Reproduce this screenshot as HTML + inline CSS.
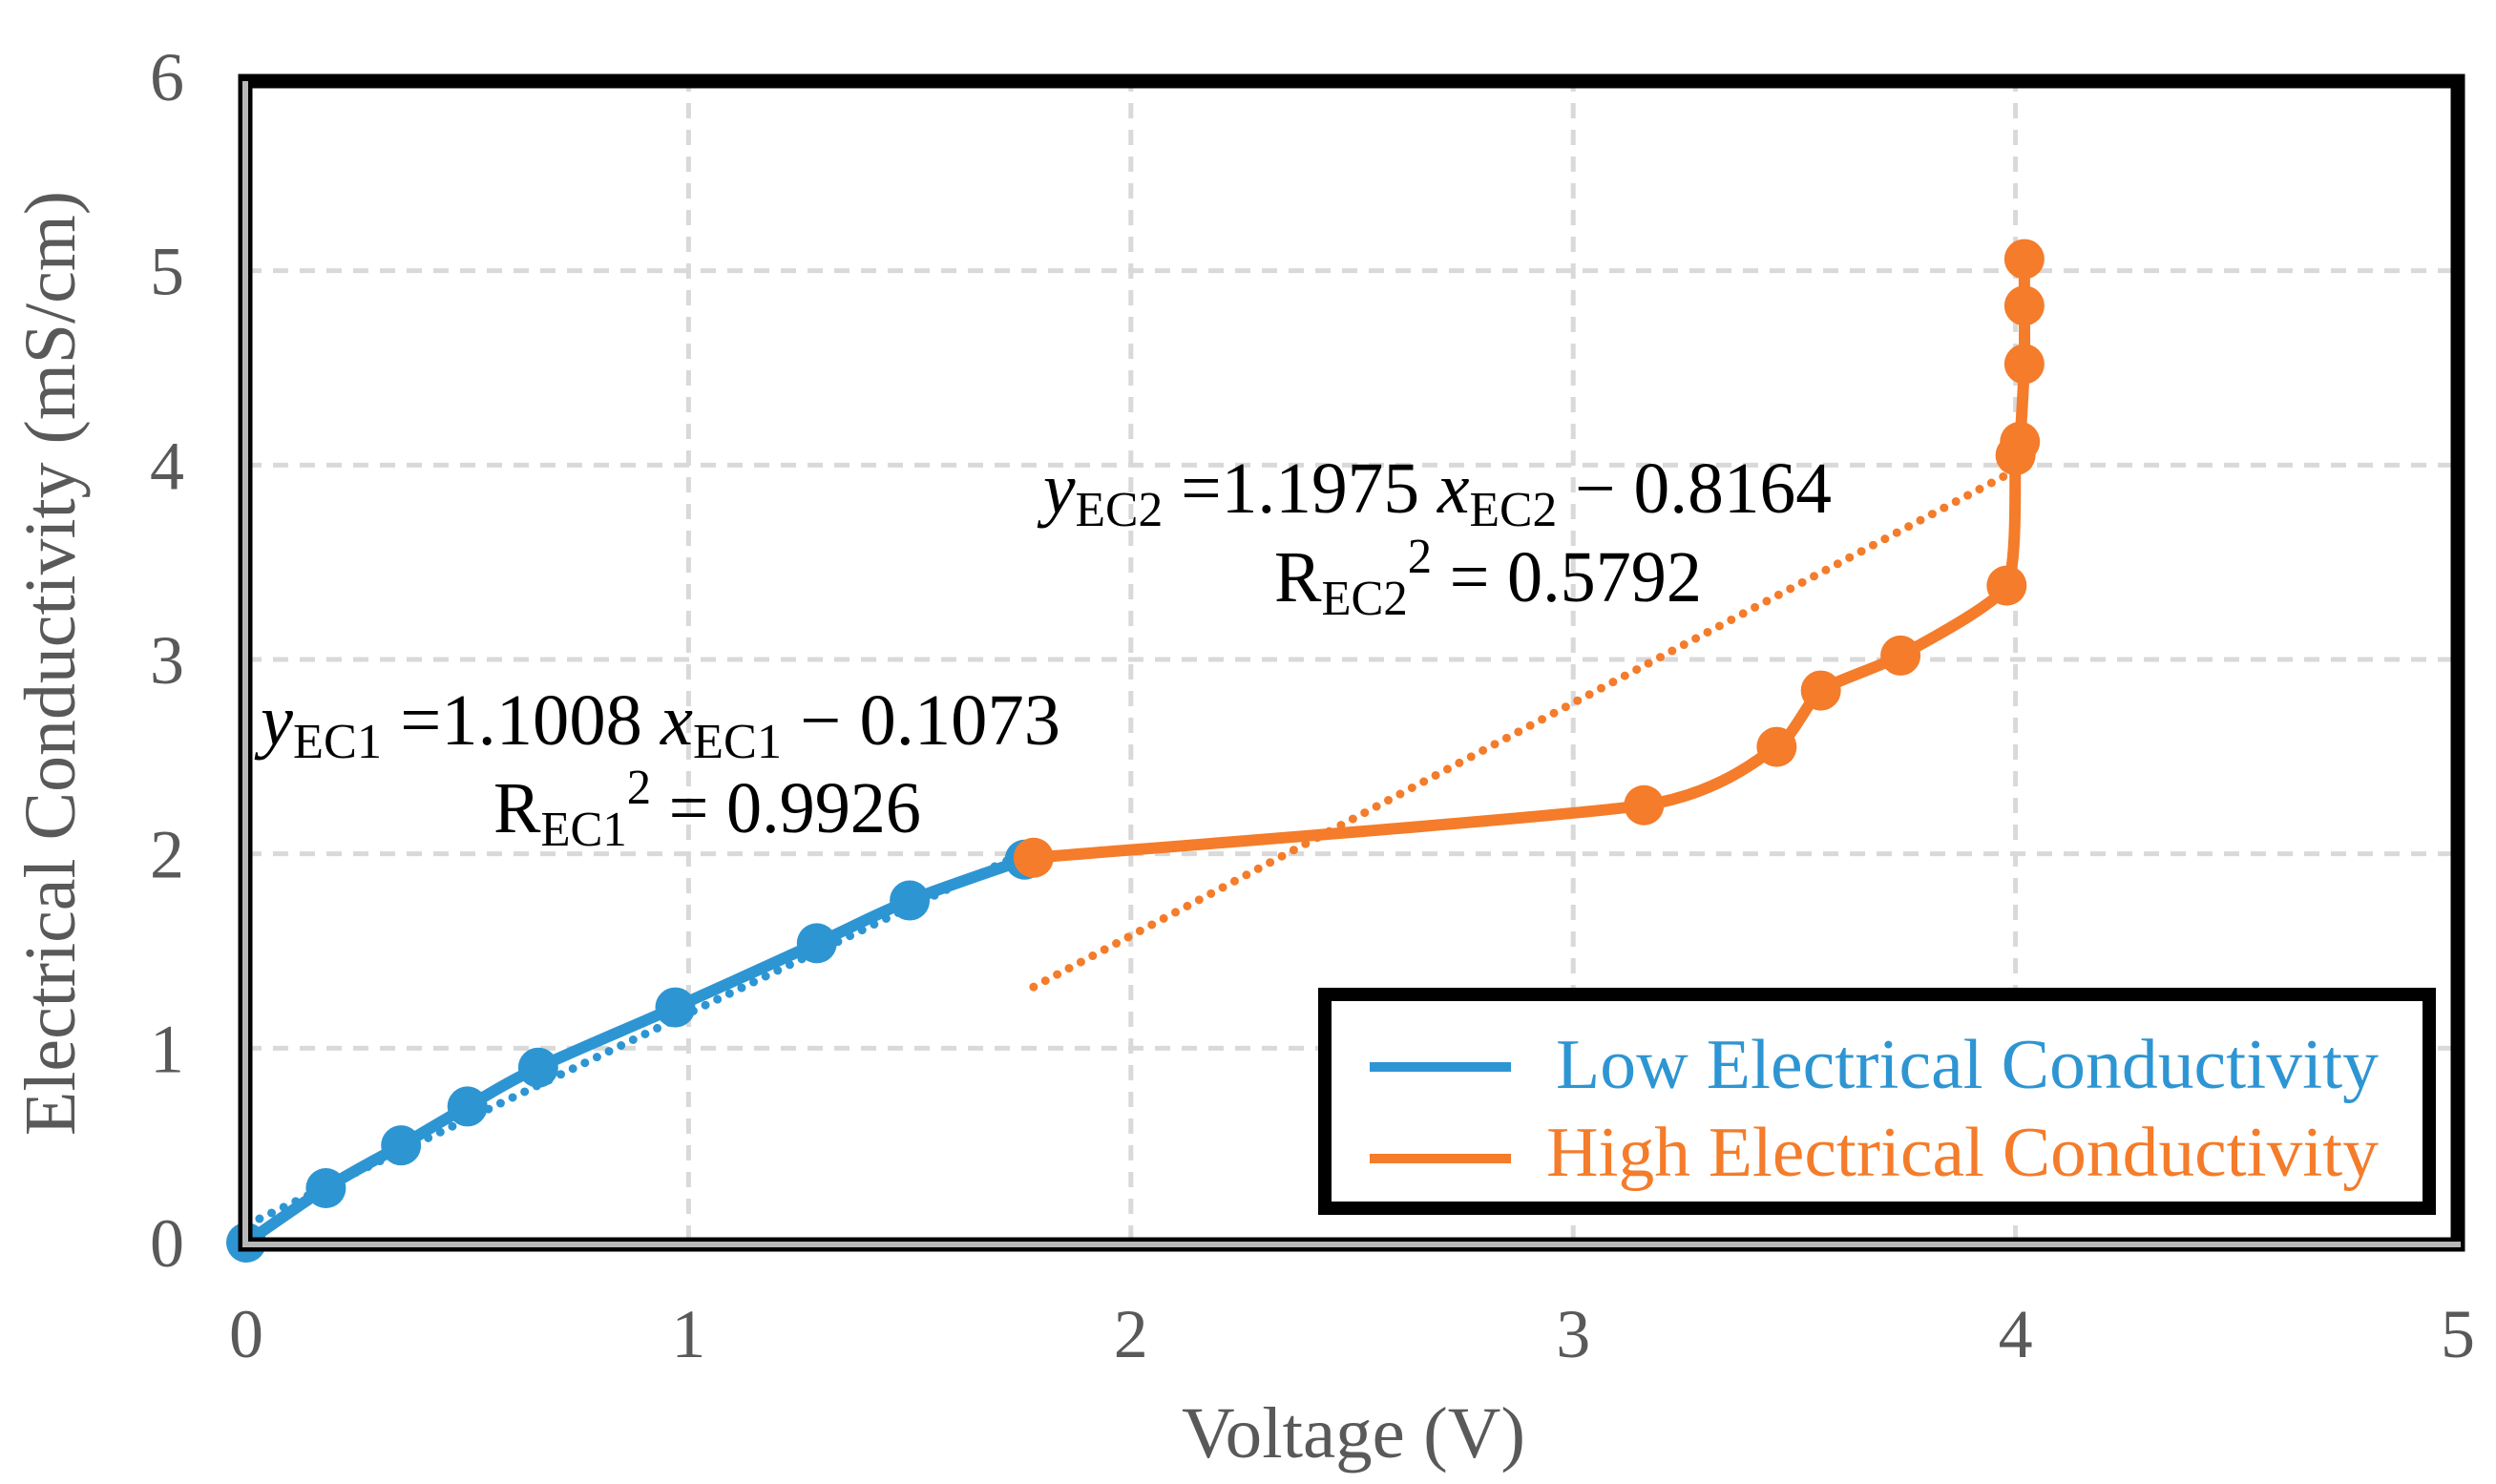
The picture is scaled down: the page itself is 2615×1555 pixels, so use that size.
<!DOCTYPE html>
<html><head><meta charset="utf-8"><style>
html,body{margin:0;padding:0;background:#fff;}
svg{display:block;font-family:"Liberation Serif",serif;}
</style></head><body>
<svg id="chart" width="2615" height="1555" viewBox="0 0 2615 1555" xmlns="http://www.w3.org/2000/svg">
<g id="grid"></g>
<g id="trends"></g>
<g id="series"></g>
<g id="frame"></g>
<g id="ticks" fill="#595959" font-size="72"></g>
<text x="1418" y="1527" font-size="76" fill="#595959" text-anchor="middle" textLength="360" lengthAdjust="spacingAndGlyphs">Voltage (V)</text>
<text transform="translate(78,695) rotate(-90)" font-size="76" fill="#595959" text-anchor="middle" textLength="990" lengthAdjust="spacingAndGlyphs">Electrical Conductivity (mS/cm)</text>
<g font-size="76" fill="#000">
<text x="273" y="780" textLength="838" lengthAdjust="spacingAndGlyphs"><tspan font-style="italic">y</tspan><tspan font-size="52" dy="14">EC1</tspan><tspan dy="-14"> =1.1008 </tspan><tspan font-style="italic">x</tspan><tspan font-size="52" dy="14">EC1</tspan><tspan dy="-14"> − 0.1073</tspan></text>
<text x="517" y="872" textLength="448" lengthAdjust="spacingAndGlyphs">R<tspan font-size="52" dy="14">EC1</tspan><tspan font-size="52" dy="-44">2</tspan><tspan dy="30"> = 0.9926</tspan></text>
</g>
<g font-size="76" fill="#000">
<text x="1093" y="537" textLength="826" lengthAdjust="spacingAndGlyphs"><tspan font-style="italic">y</tspan><tspan font-size="52" dy="14">EC2</tspan><tspan dy="-14"> =1.1975 </tspan><tspan font-style="italic">x</tspan><tspan font-size="52" dy="14">EC2</tspan><tspan dy="-14"> − 0.8164</tspan></text>
<text x="1335" y="630" textLength="448" lengthAdjust="spacingAndGlyphs">R<tspan font-size="52" dy="14">EC2</tspan><tspan font-size="52" dy="-44">2</tspan><tspan dy="30"> = 0.5792</tspan></text>
</g>
<g>
<rect x="1388" y="1042" width="1157" height="224" fill="#fff" stroke="#000" stroke-width="14"/>
<line x1="1435" y1="1118" x2="1583" y2="1118" stroke="#2e95d3" stroke-width="10"/>
<text x="1630" y="1140" font-size="74" fill="#2e95d3" textLength="862" lengthAdjust="spacingAndGlyphs">Low Electrical Conductivity</text>
<line x1="1435" y1="1214" x2="1583" y2="1214" stroke="#f47c2a" stroke-width="10"/>
<text x="1620" y="1232" font-size="74" fill="#f47c2a" textLength="872" lengthAdjust="spacingAndGlyphs">High Electrical Conductivity</text>
</g>
</svg>
<script>
const xTicks=[0,1,2,3,4,5];
const yTicks=[0,1,2,3,4,5,6];
const lowX=[0,0.18,0.35,0.5,0.66,0.97,1.29,1.5,1.76];
const lowY=[0,0.28,0.5,0.7,0.9,1.21,1.54,1.76,1.97];
const highX=[1.78,3.16,3.46,3.56,3.74,3.98,4.0,4.01,4.02,4.02,4.02];
const highY=[1.98,2.25,2.55,2.84,3.02,3.38,4.05,4.12,4.52,4.82,5.06];
const lowFit=[1.09,0.09];
const highFit=[1.1975,-0.8164];
const lowFitRange=[0.03,1.75];
const highFitRange=[1.78,4.0];

const X0=258,X1=2575,Y0=1302,Y1=80;
const sx=v=>X0+(X1-X0)*v/5;
const sy=v=>Y0-(Y0-Y1)*v/6;
const NS='http://www.w3.org/2000/svg';
function mk(tag,attrs,parent){const e=document.createElementNS(NS,tag);for(const k in attrs)e.setAttribute(k,attrs[k]);parent.appendChild(e);return e;}
const grid=document.getElementById('grid');
xTicks.forEach(t=>{if(t>0&&t<5){const l=mk('line',{x1:sx(t),x2:sx(t),y1:Y1,y2:Y0,stroke:'#d9d9d9','stroke-width':5,'stroke-dasharray':'16 12'},grid);

}});
yTicks.forEach(t=>{if(t>0&&t<6){const l=mk('line',{x1:X0,x2:X1,y1:sy(t),y2:sy(t),stroke:'#d9d9d9','stroke-width':5,'stroke-dasharray':'16 12'},grid);

}});
const ticks=document.getElementById('ticks');
xTicks.forEach(t=>{const e=mk('text',{x:sx(t),y:1422,'text-anchor':'middle'},ticks);e.textContent=t;

});
yTicks.forEach(t=>{const e=mk('text',{x:175,y:sy(t)+25,'text-anchor':'middle'},ticks);e.textContent=t;

});
const frame=document.getElementById('frame');
const fr=mk('rect',{x:X0-1,y:Y1+5,width:X1-X0+1,height:Y0-Y1-3,fill:'none',stroke:'#000','stroke-width':15},frame);


const ax=mk('path',{d:`M${X0-1},${Y1+5} L${X0-1},${Y0+2} L${X1+3},${Y0+2}`,fill:'none',stroke:'#b8b8b8','stroke-width':6},frame);


const trends=document.getElementById('trends');
function fit(f,r,c,name){const l=mk('line',{x1:sx(r[0]),y1:sy(f[0]*r[0]+f[1]),x2:sx(r[1]),y2:sy(f[0]*r[1]+f[1]),stroke:c,'stroke-width':9,'stroke-dasharray':'0 14','stroke-linecap':'round'},trends);

}
fit(lowFit,lowFitRange,'#2e95d3','trendline-low');
fit(highFit,highFitRange,'#f47c2a','trendline-high');
function spline(xs,ys,k){const p=xs.map((x,i)=>[sx(x),sy(ys[i])]);let d=`M${p[0][0]},${p[0][1]}`;
for(let i=0;i<p.length-1;i++){const a=p[Math.max(i-1,0)],b=p[i],c=p[i+1],e=p[Math.min(i+2,p.length-1)];
d+=` C${b[0]+(c[0]-a[0])*k},${b[1]+(c[1]-a[1])*k} ${c[0]-(e[0]-b[0])*k},${c[1]-(e[1]-b[1])*k} ${c[0]},${c[1]}`;}return d;}
const series=document.getElementById('series');
function draw(xs,ys,c,name,k){const p=mk('path',{d:spline(xs,ys,k),fill:'none',stroke:c,'stroke-width':12},series);


xs.forEach((x,i)=>{const m=mk('circle',{cx:sx(x),cy:sy(ys[i]),r:21,fill:c},series);

});}
draw(lowX,lowY,'#2e95d3','low-series',1/6);
draw(highX,highY,'#f47c2a','high-series',1/10);
</script>
</body></html>
